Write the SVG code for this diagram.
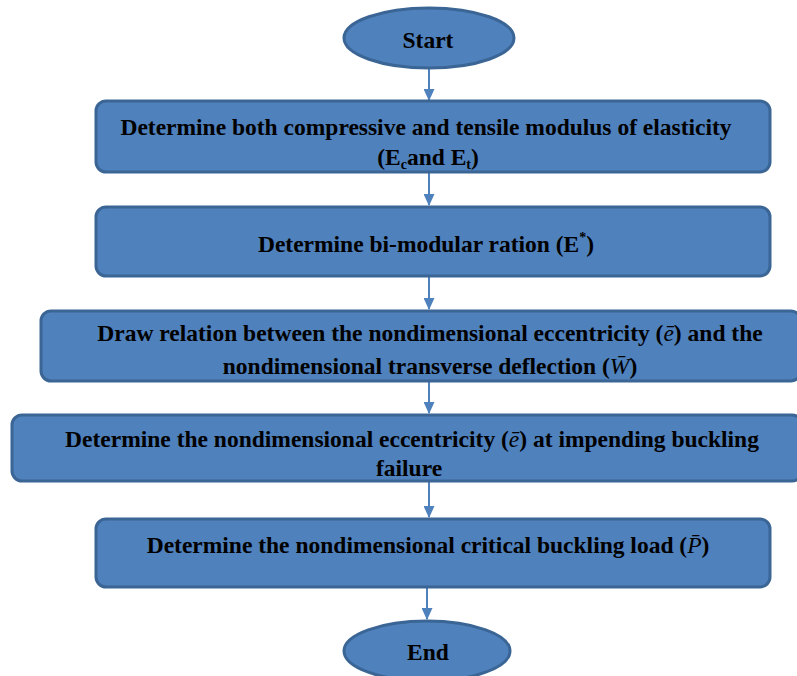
<svg xmlns="http://www.w3.org/2000/svg" width="797" height="676" viewBox="0 0 797 676">
<style>
.n{fill:#4F81BD;stroke:#3A6595;stroke-width:3}
.t{font-family:"Liberation Serif","Times New Roman",serif;font-weight:bold;font-size:23.5px;fill:#000;text-anchor:middle}
.m{font-style:italic;font-weight:normal}
.s{font-size:14px}
.c{stroke:#4F81BD;stroke-width:2;fill:none;marker-end:url(#ah)}
</style>
<defs>
<marker id="ah" markerWidth="12" markerHeight="11" refX="11" refY="5.5" orient="auto" markerUnits="userSpaceOnUse">
<path d="M0,0 L12,5.5 L0,11 Z" fill="#4F81BD"/>
</marker>
</defs>
<g id="connectors">
<line class="c" x1="429" y1="69" x2="429" y2="100"/>
<line class="c" x1="429" y1="173" x2="429" y2="205"/>
<line class="c" x1="429" y1="277" x2="429" y2="309"/>
<line class="c" x1="429" y1="382" x2="429" y2="413"/>
<line class="c" x1="429" y1="482" x2="429" y2="517"/>
<line class="c" x1="427" y1="588" x2="427" y2="619"/>
</g>
<g id="start">
<ellipse class="n" cx="429" cy="38" rx="85" ry="30"/>
<text class="t" x="428" y="48">Start</text>
</g>
<g id="box1">
<rect class="n" x="96" y="101" width="674" height="71" rx="10"/>
<text class="t" x="426" y="135">Determine both compressive and tensile modulus of elasticity</text>
<text class="t" x="428" y="165">(E<tspan class="s" dy="4">c</tspan><tspan dy="-4">and E</tspan><tspan class="s" dy="4">t</tspan><tspan dy="-4">)</tspan></text>
</g>
<g id="box2">
<rect class="n" x="96" y="207" width="674" height="69" rx="10"/>
<text class="t" x="426" y="252">Determine bi-modular ration (E<tspan class="s" dy="-10">*</tspan><tspan dy="10">)</tspan></text>
</g>
<g id="box3">
<rect class="n" x="41" y="311" width="760" height="70" rx="10"/>
<text class="t" x="430" y="341">Draw relation between the nondimensional eccentricity (<tspan class="m">ē</tspan>) and the</text>
<text class="t" x="430" y="374">nondimensional transverse deflection (<tspan class="m">W̄</tspan>)</text>
</g>
<g id="box4">
<rect class="n" x="12" y="415" width="790" height="66" rx="10"/>
<text class="t" x="412" y="447">Determine the nondimensional eccentricity (<tspan class="m">ē</tspan>) at impending buckling</text>
<text class="t" x="409" y="476">failure</text>
</g>
<g id="box5">
<rect class="n" x="96" y="519" width="674" height="68" rx="10"/>
<text class="t" x="428" y="553">Determine the nondimensional critical buckling load (<tspan class="m">P̄</tspan>)</text>
</g>
<g id="end">
<ellipse class="n" cx="427" cy="651" rx="83" ry="30"/>
<text class="t" x="428" y="660" font-size="22">End</text>
</g>
</svg>
